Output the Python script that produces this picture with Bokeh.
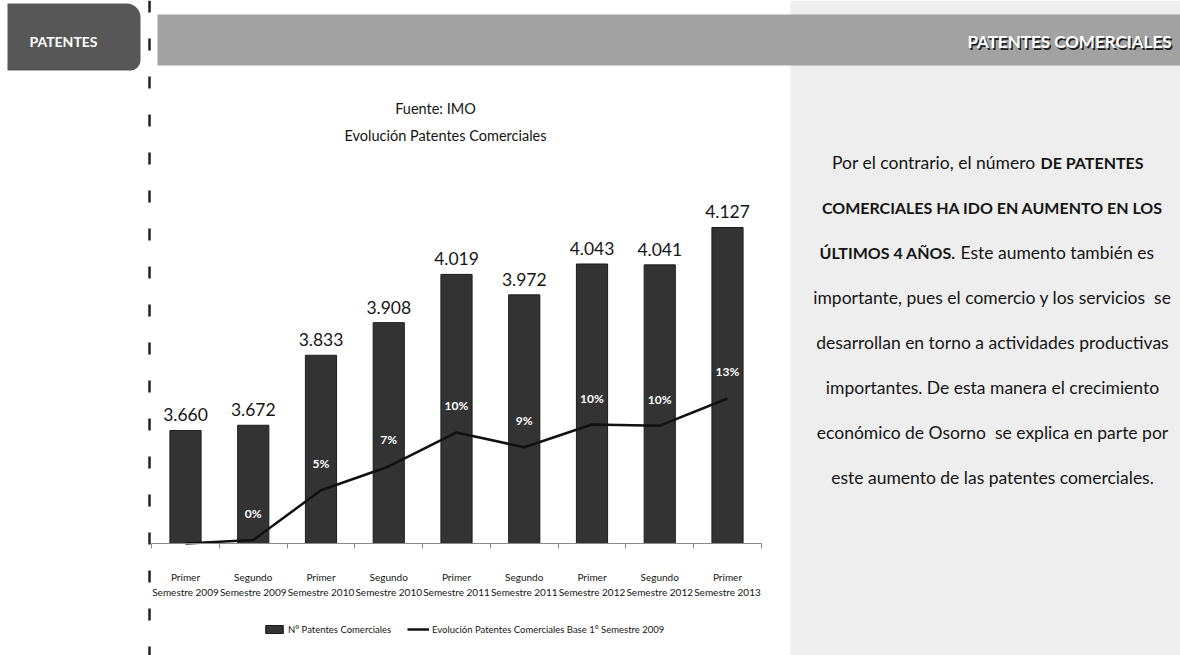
from bokeh.plotting import figure
from bokeh.models import Range1d, FixedTicker, Legend, LegendItem, LinearAxis, ColumnDataSource
from bokeh.embed import file_html
from bokeh.resources import INLINE
from bokeh.core.properties import value

# ---------------- data ----------------
categories = [
    "Primer\nSemestre 2009", "Segundo\nSemestre 2009",
    "Primer\nSemestre 2010", "Segundo\nSemestre 2010",
    "Primer\nSemestre 2011", "Segundo\nSemestre 2011",
    "Primer\nSemestre 2012", "Segundo\nSemestre 2012",
    "Primer\nSemestre 2013",
]
patentes = [3660, 3672, 3833, 3908, 4019, 3972, 4043, 4041, 4127]
patentes_labels = ["3.660", "3.672", "3.833", "3.908", "4.019", "3.972", "4.043", "4.041", "4.127"]
evolucion = [0.0, 0.3, 4.7, 6.8, 9.8, 8.5, 10.5, 10.4, 12.8]
evolucion_labels = ["", "0%", "5%", "7%", "10%", "9%", "10%", "10%", "13%"]

series_names = ["N° Patentes Comerciales", "Evolución Patentes Comerciales Base 1° Semestre 2009"]
chart_titles = ["Fuente: IMO", "Evolución Patentes Comerciales"]
section_label = "PATENTES"
header_label = "PATENTES COMERCIALES"

# right-hand text, each line as (text, bold) segments
text_lines = [
    [("Por el contrario, el número", False), ("DE PATENTES", True)],
    [("COMERCIALES HA IDO EN AUMENTO EN LOS", True)],
    [("ÚLTIMOS 4 AÑOS.", True), ("Este aumento también es", False)],
    [("importante, pues el comercio y los servicios \u00a0se", False)],
    [("desarrollan en torno a actividades productivas", False)],
    [("importantes. De esta manera el crecimiento", False)],
    [("económico de Osorno \u00a0se explica en parte por", False)],
    [("este aumento de las patentes comerciales.", False)],
]

# ---------------- style / layout constants ----------------
FONT = "Lato"
INK = "#151515"
BAR = "#333333"
STIPPLE = "#eeeeee"
W, H = 1180, 655

CAT_X0 = 185        # pixel of first category centre
CAT_STEP = 67.75    # pixels per category
AXIS_Y = 543        # pixel row of the category axis
CNT0 = 3400         # value at the axis line
CNT_PX = 0.4347     # pixels per patent
PCT_PX = 11.33      # pixels per percent point

p = figure(width=W, height=H, x_range=Range1d(0, W), y_range=Range1d(H, 0),
           x_axis_location=None, y_axis_location=None, min_border=0,
           toolbar_location=None, output_backend="svg",
           background_fill_color="white", border_fill_color="white")
p.outline_line_color = None
p.grid.visible = False

n = len(categories)
p.extra_x_ranges = {"cat": Range1d(-CAT_X0 / CAT_STEP, (W - CAT_X0) / CAT_STEP)}
p.extra_y_ranges = {
    "cnt": Range1d(CNT0 - (H - AXIS_Y) / CNT_PX, CNT0 + AXIS_Y / CNT_PX),
    "pct": Range1d(-(H - AXIS_Y) / PCT_PX, AXIS_Y / PCT_PX),
}

# ---------------- page decoration ----------------
# stippled right panel
p.quad(left=[790], right=[W], top=[0], bottom=[H], fill_color=STIPPLE, line_color=None)
# left section tab
p.quad(left=[7], right=[140], top=[3], bottom=[70], fill_color="#575757",
       line_color=None, border_radius=(0, 14, 10, 0))
p.text(x=[63], y=[41], text=[section_label], text_align="center", text_baseline="middle",
       text_font=value(FONT), text_font_style="bold", text_font_size="14px", text_color="white")
# dashed page edge
p.segment(x0=[149], y0=[0], x1=[149], y1=[H], line_color="#222222", line_width=2.5,
          line_dash="12 26")
# header bar
p.quad(left=[157], right=[W], top=[14], bottom=[65], fill_color="#a2a2a2", line_color=None)
p.text(x=[1171], y=[41], text=[header_label], text_align="right", text_baseline="middle",
       text_font=value(FONT), text_font_style="bold", text_font_size="17px",
       text_color="#222222", x_offset=1.5, y_offset=1.5)
p.text(x=[1171], y=[41], text=[header_label], text_align="right", text_baseline="middle",
       text_font=value(FONT), text_font_style="bold", text_font_size="17px", text_color="white")

# chart titles
p.text(x=[435, 445], y=[108, 135], text=chart_titles, text_align="center",
       text_baseline="middle", text_font=value(FONT), text_font_size="14.5px", text_color=INK)

# ---------------- chart ----------------
src = ColumnDataSource(dict(x=list(range(n)), top=patentes, lab=patentes_labels,
                            pct=evolucion, plab=evolucion_labels))

bars = p.vbar(x="x", top="top", bottom=CNT0, width=0.46, x_range_name="cat", y_range_name="cnt",
              fill_color=BAR, line_color="#1c1c1c", source=src)
p.text(x="x", y="top", text="lab", x_range_name="cat", y_range_name="cnt",
       text_align="center", text_baseline="bottom", y_offset=-9,
       text_font=value(FONT), text_font_size="17.5px", text_color=INK, source=src)
line = p.line(x="x", y="pct", x_range_name="cat", y_range_name="pct",
              line_color="#111111", line_width=2.5, source=src)
p.text(x="x", y="pct", text="plab", x_range_name="cat", y_range_name="pct",
       text_align="center", text_baseline="bottom", y_offset=-19,
       text_font=value(FONT), text_font_style="bold", text_font_size="12px",
       text_color="white", source=src)

xaxis = LinearAxis(x_range_name="cat", fixed_location=AXIS_Y, bounds=(-0.5, n - 0.5))
xaxis.ticker = FixedTicker(ticks=list(range(n)), minor_ticks=[i - 0.5 for i in range(n + 1)])
xaxis.major_label_overrides = {i: c for i, c in enumerate(categories)}
xaxis.axis_line_color = "#8a8a8a"
xaxis.major_tick_line_color = None
xaxis.major_tick_in = 0
xaxis.major_tick_out = 0
xaxis.minor_tick_line_color = "#8a8a8a"
xaxis.minor_tick_in = 0
xaxis.minor_tick_out = 5
xaxis.major_label_standoff = 22
xaxis.major_label_text_font = FONT
xaxis.major_label_text_font_size = "10px"
xaxis.major_label_text_color = INK
xaxis.major_label_text_line_height = 1.3
p.add_layout(xaxis, "below")

legend = Legend(items=[LegendItem(label=series_names[0], renderers=[bars]),
                       LegendItem(label=series_names[1], renderers=[line])],
                orientation="horizontal", location=(263, 20),
                label_text_font=FONT, label_text_font_size="9.5px", label_text_color=INK,
                border_line_color=None, background_fill_alpha=0,
                glyph_width=22, glyph_height=10, label_height=12, spacing=16,
                padding=0, margin=0, label_standoff=3)
p.add_layout(legend)

# ---------------- right text ----------------
CENTER_X = 992
REG = "17.5px"
BOLD = "16px"
splits = {0: 1037, 2: 957}
for i, segs in enumerate(text_lines):
    y = 162 + 45 * i
    if len(segs) == 1:
        t, b = segs[0]
        p.text(x=[CENTER_X], y=[y], text=[t], text_align="center", text_baseline="middle",
               text_font=value(FONT), text_font_style="bold" if b else "normal",
               text_font_size=BOLD if b else REG, text_color=INK)
    else:
        sx = splits[i]
        (t1, b1), (t2, b2) = segs
        p.text(x=[sx - 2], y=[y], text=[t1], text_align="right", text_baseline="middle",
               text_font=value(FONT), text_font_style="bold" if b1 else "normal",
               text_font_size=BOLD if b1 else REG, text_color=INK)
        p.text(x=[sx + 3], y=[y], text=[t2], text_align="left", text_baseline="middle",
               text_font=value(FONT), text_font_style="bold" if b2 else "normal",
               text_font_size=BOLD if b2 else REG, text_color=INK)

open("out.html", "w").write(file_html(p, INLINE))
